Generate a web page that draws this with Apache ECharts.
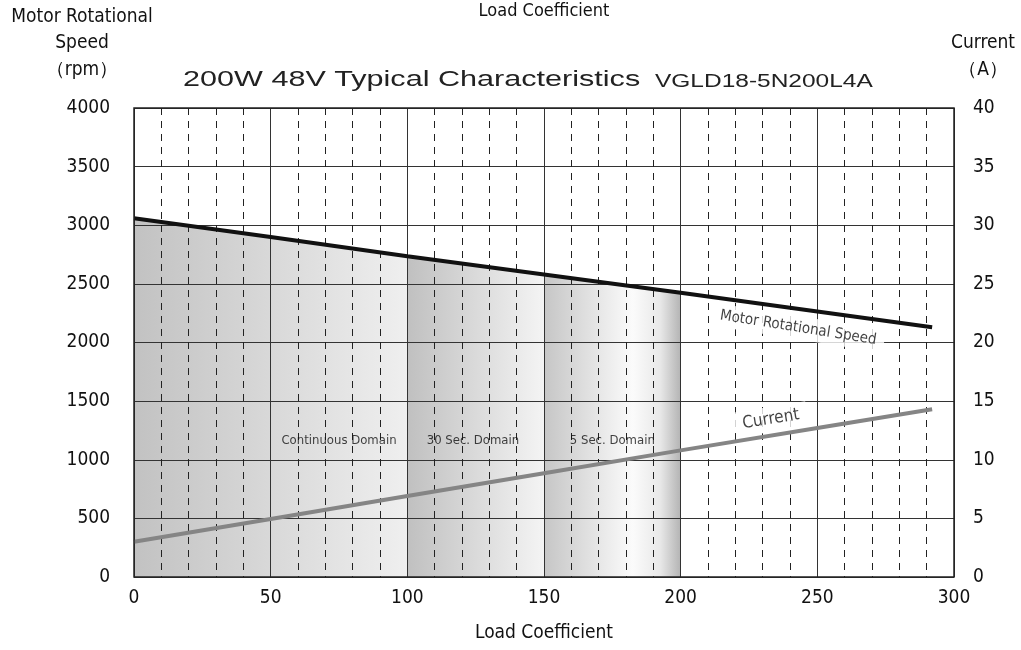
<!DOCTYPE html>
<html>
<head>
<meta charset="utf-8">
<script src="https://cdn.jsdelivr.net/npm/echarts@6/dist/echarts.min.js"></script>
<style>
html,body{margin:0;padding:0;background:#fff;}
#c{width:1021px;height:650px;}
</style>
</head>
<body>
<div id="c"></div>
<script>
// ---- data ----
const loadX = [0, 50, 100, 150, 200, 250, 292];
const speedRpm = [3060, 2900, 2735, 2580, 2425, 2265, 2130];
const currentA = [3.0, 4.95, 6.9, 8.85, 10.8, 12.7, 14.3];
const domainNames = ['Continuous Domain', '30 Sec. Domain', '5 Sec. Domain'];
const domainRanges = [[0, 100], [100, 150], [150, 200]];
const domainLabelX = [75, 124, 175];
const domainLabelY = 1160;
const xTicks = [0, 50, 100, 150, 200, 250, 300];
const leftTicks = [0, 500, 1000, 1500, 2000, 2500, 3000, 3500, 4000];
const rightTicks = [0, 5, 10, 15, 20, 25, 30, 35, 40];
const title = '200W 48V Typical Characteristics';
const model = 'VGLD18-5N200L4A';
const xName = 'Load Coefficient';
const leftName = ['Motor Rotational', 'Speed', '（rpm）'];
const rightName = ['Current', '（A）'];
const speedLabel = 'Motor Rotational Speed';
const currentLabel = 'Current';

const NARROW = '"Liberation Sans Narrow", "DejaVu Sans Condensed", sans-serif';
const WIDE = '"Liberation Sans", Arial, sans-serif';

function speedAt(x) {
  for (let i = 0; i < loadX.length - 1; i++) {
    if (x >= loadX[i] && x <= loadX[i + 1]) {
      const t = (x - loadX[i]) / (loadX[i + 1] - loadX[i]);
      return speedRpm[i] + t * (speedRpm[i + 1] - speedRpm[i]);
    }
  }
  return speedRpm[speedRpm.length - 1];
}
function domainData(r) {
  const pts = [[r[0], speedAt(r[0])]];
  loadX.forEach((x, i) => { if (x > r[0] && x < r[1]) pts.push([x, speedRpm[i]]); });
  pts.push([r[1], speedAt(r[1])]);
  return pts;
}
const G = echarts.graphic.LinearGradient;
const domainFills = [
  new G(0, 0, 1, 0, [{offset: 0, color: '#c2c2c2'}, {offset: 1, color: '#efefef'}]),
  new G(0, 0, 1, 0, [{offset: 0, color: '#c0c0c0'}, {offset: 1, color: '#f4f4f4'}]),
  new G(0, 0, 1, 0, [{offset: 0, color: '#c6c6c6'}, {offset: 0.65, color: '#fbfbfb'}, {offset: 0.85, color: '#e8e8e8'}, {offset: 1, color: '#b4b4b4'}])
];

const chart = echarts.init(document.getElementById('c'), null, {renderer: 'canvas'});

const series = [];
domainRanges.forEach((r, i) => {
  series.push({
    type: 'line', z: 1, silent: true, symbol: 'none',
    lineStyle: {width: 0, opacity: 0},
    areaStyle: {color: domainFills[i], opacity: 1, origin: 'start'},
    data: domainData(r)
  });
});
series.push({
  type: 'line', z: 5, symbol: 'none', silent: true,
  lineStyle: {color: '#111', width: 4},
  data: loadX.map((x, i) => [x, speedRpm[i]])
});
series.push({
  type: 'line', z: 5, symbol: 'none', silent: true, yAxisIndex: 1,
  lineStyle: {color: '#858585', width: 4},
  data: loadX.map((x, i) => [x, currentA[i]])
});
// domain labels
series.push({
  type: 'scatter', z: 6, symbolSize: 0, silent: true,
  label: {show: true, position: 'inside', formatter: p => p.data.name,
    fontFamily: NARROW, fontSize: 13, color: '#111'},
  data: domainNames.map((n, i) => ({name: n, value: [domainLabelX[i], domainLabelY]}))
});
// line labels
series.push({
  type: 'scatter', z: 4, symbolSize: 0, silent: true,
  label: {show: true, position: 'inside', formatter: p => p.data.name,
    fontFamily: NARROW, fontSize: 15, color: '#111', backgroundColor: '#fff', padding: [4, 8]},
  data: [
    {name: speedLabel, value: [243, 2125], label: {rotate: -9}},
    {name: currentLabel, value: [233, 1345], label: {rotate: 9, fontSize: 17}}
  ]
});

const axisLabelStyle = {fontFamily: NARROW, fontSize: 19, color: '#111', formatter: v => String(v)};

chart.setOption({
  animation: false,
  backgroundColor: '#fff',
  grid: {left: 134, right: 67, top: 108, bottom: 73, show: true, borderColor: '#222', borderWidth: 1.5, backgroundColor: 'transparent', z: 7},
  xAxis: {
    type: 'value', min: xTicks[0], max: xTicks[xTicks.length - 1], interval: 50, z: 3,
    axisLine: {show: false}, axisTick: {show: false},
    axisLabel: Object.assign({margin: 12}, axisLabelStyle),
    splitLine: {show: true, lineStyle: {color: '#333', width: 1}},
    minorTick: {show: false, splitNumber: 5},
    minorSplitLine: {show: true, lineStyle: {color: '#222', width: 1, type: [7, 6]}}
  },
  yAxis: [
    {
      type: 'value', min: leftTicks[0], max: leftTicks[leftTicks.length - 1], interval: 500, z: 3,
      axisLine: {show: false}, axisTick: {show: false},
      axisLabel: Object.assign({margin: 24}, axisLabelStyle),
      splitLine: {show: true, lineStyle: {color: '#333', width: 1}}
    },
    {
      type: 'value', min: rightTicks[0], max: rightTicks[rightTicks.length - 1], interval: 5, z: 3,
      axisLine: {show: false}, axisTick: {show: false},
      axisLabel: Object.assign({margin: 19}, axisLabelStyle),
      splitLine: {show: false}
    }
  ],
  graphic: [
    {type: 'text', x: 544, y: 2, style: {text: xName, font: '18px ' + NARROW, fill: '#111', align: 'center'}},
    {type: 'text', x: 544, y: 624, style: {text: xName, font: '19px ' + NARROW, fill: '#111', align: 'center'}},
    {type: 'text', x: 82, y: 8, style: {text: leftName[0], font: '19px ' + NARROW, fill: '#111', align: 'center'}},
    {type: 'text', x: 82, y: 34, style: {text: leftName[1], font: '19px ' + NARROW, fill: '#111', align: 'center'}},
    {type: 'text', x: 82, y: 61, style: {text: leftName[2], font: '19px ' + NARROW, fill: '#111', align: 'center'}},
    {type: 'text', x: 983, y: 34, style: {text: rightName[0], font: '19px ' + NARROW, fill: '#111', align: 'center'}},
    {type: 'text', x: 983, y: 61, style: {text: rightName[1], font: '19px ' + NARROW, fill: '#111', align: 'center'}},
    {type: 'text', x: 183, y: 69, scaleX: 1.39, style: {text: title, font: '22px ' + WIDE, fill: '#222'}},
    {type: 'text', x: 655, y: 73, scaleX: 1.36, style: {text: model, font: '18px ' + WIDE, fill: '#222'}}
  ],
  series: series
});
</script>
</body>
</html>
